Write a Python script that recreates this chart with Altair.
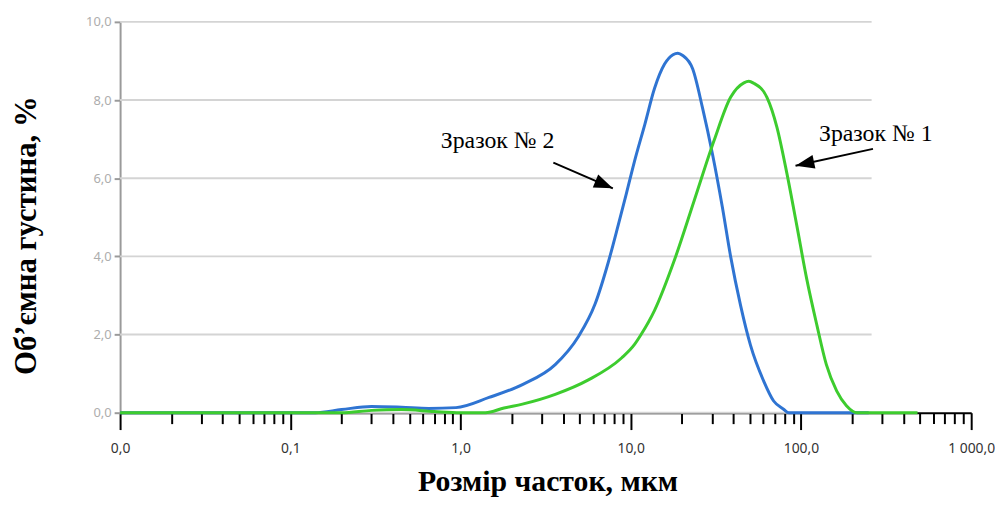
import altair as alt
import pandas as pd

# ---- data ----
blue_x = [0.01, 0.14, 0.2, 0.3, 0.45, 0.65, 0.94, 1.47, 2.31, 3.6, 4.93, 6.17, 7.38, 8.44, 9.44,
          10.5, 12.1, 13.8, 15.8, 17.7, 18.9, 20.2, 23.1, 26.4, 30.2, 34.5, 38.6, 44.2, 50.5,
          60.4, 69.1, 79.0, 85.0, 250.0]
blue_y = [0.0, 0.0, 0.08, 0.16, 0.14, 0.11, 0.13, 0.39, 0.72, 1.23, 1.95, 2.78, 3.85, 4.8, 5.62,
          6.42, 7.38, 8.3, 8.92, 9.16, 9.2, 9.14, 8.8, 7.8, 6.62, 5.27, 4.0, 2.74, 1.73,
          0.81, 0.3, 0.09, 0.0, 0.0]

green_x = [0.01, 0.2, 0.3, 0.45, 0.7, 1.0, 1.4, 1.8, 2.31, 3.6, 5.64, 8.83, 10.5, 11.5, 13.8,
           18.1, 23.6, 30.9, 38.6, 46.2, 49.4, 52.8, 63.1, 72.2, 82.6, 94.6, 108.0, 124.0,
           141.0, 162.0, 185.0, 214.0, 484.0]
green_y = [0.0, 0.0, 0.06, 0.08, 0.03, 0.0, 0.0, 0.12, 0.22, 0.47, 0.84, 1.4, 1.74, 2.0, 2.62,
           3.92, 5.43, 6.97, 8.07, 8.44, 8.48, 8.43, 8.07, 7.31, 6.13, 4.78, 3.43, 2.24,
           1.23, 0.56, 0.18, 0.0, 0.0]

x_decade_labels = ["0,0", "0,1", "1,0", "10,0", "100,0", "1 000,0"]
x_tick_values = [m * 10 ** e for e in range(-2, 3) for m in range(1, 10)] + [1000]
y_tick_values = [0, 2, 4, 6, 8, 10]

grid_y = [0, 2, 4, 6, 8, 10]
grid_x_start = [0.01] * 6
grid_x_end = [260.0] * 6

ann_text = ["Зразок № 2", "Зразок № 1"]
ann_x = [1.65, 275.0]
ann_y = [6.96, 7.13]
arrow_x = [3.51, 264.8]
arrow_y = [6.4, 6.75]
arrow_x2 = [7.85, 92.9]
arrow_y2 = [5.74, 6.32]
arrow_angle = [113, 258]

BLUE = "#2f74d2"
GREEN = "#3dcc2e"

blue_df = pd.DataFrame({"x": blue_x, "y": blue_y})
green_df = pd.DataFrame({"x": green_x, "y": green_y})
grid_df = pd.DataFrame({"y": grid_y, "x": grid_x_start, "x2": grid_x_end})
ann_df = pd.DataFrame({"t": ann_text, "x": ann_x, "y": ann_y})
arr_df = pd.DataFrame({"x": arrow_x, "y": arrow_y, "x2": arrow_x2, "y2": arrow_y2,
                       "ang": arrow_angle})

labels_js = "[" + ",".join("'" + s + "'" for s in x_decade_labels) + "]"
lg = "log(datum.value)/LN10"
x_label_expr = (f"abs({lg} - round({lg})) < 0.001 ? {labels_js}[round({lg}) + 2] : ''")
major_test = f"abs({lg} - round({lg})) < 0.001"

xscale = alt.Scale(type="log", domain=[0.01, 1000], nice=False)
yscale = alt.Scale(domain=[0, 10], nice=False)

x_axis = alt.Axis(
    values=x_tick_values,
    labelExpr=x_label_expr,
    labelOverlap=False,
    labelFlush=False,
    grid=False,
    domainColor="#000000",
    domainWidth=2,
    tickColor="#000000",
    tickWidth=2,
    tickSize={"condition": {"test": major_test, "value": 17}, "value": 11},
    labelColor="#333333",
    labelFont="Noto Sans",
    labelFontSize=14,
    labelPadding=12,
    title="Розмір часток, мкм",
    titleFont="Liberation Serif",
    titleFontWeight="bold",
    titleFontSize=30,
    titleColor="#000000",
    titleX=431,
    titleY=78,
    titleAlign="center",
    titleBaseline="alphabetic",
)

y_axis = alt.Axis(
    values=y_tick_values,
    labelExpr="replace(format(datum.value, '.1f'), '.', ',')",
    grid=False,
    domainColor="#9a9a9a",
    domainWidth=2,
    tickColor="#9a9a9a",
    tickWidth=2,
    tickSize=6,
    labelColor="#adadad",
    labelFont="Noto Sans",
    labelFontSize=13,
    labelPadding=3,
    title="Об’ємна густина, %",
    titleFont="Liberation Serif",
    titleFontWeight="bold",
    titleFontSize=31,
    titleColor="#000000",
    titleAngle=270,
    titleX=-94,
    titleY=215,
    titleAlign="center",
    titleBaseline="middle",
)

grid = alt.Chart(grid_df).mark_rule(color="#d4d4d4", strokeWidth=2).encode(
    x=alt.X("x:Q", scale=xscale, axis=x_axis),
    x2="x2:Q",
    y=alt.Y("y:Q", scale=yscale, axis=y_axis),
)

blue = alt.Chart(blue_df).mark_line(color=BLUE, strokeWidth=3, interpolate="monotone").encode(
    x=alt.X("x:Q", scale=xscale),
    y=alt.Y("y:Q", scale=yscale),
)
green = alt.Chart(green_df).mark_line(color=GREEN, strokeWidth=3, interpolate="monotone").encode(
    x=alt.X("x:Q", scale=xscale),
    y=alt.Y("y:Q", scale=yscale),
)

text = alt.Chart(ann_df).mark_text(font="Liberation Serif", fontSize=24, color="#000000",
                                   align="center", baseline="middle").encode(
    x=alt.X("x:Q", scale=xscale),
    y=alt.Y("y:Q", scale=yscale),
    text="t:N",
)

arrows = alt.Chart(arr_df).mark_rule(color="#000000", strokeWidth=2).encode(
    x=alt.X("x:Q", scale=xscale),
    y=alt.Y("y:Q", scale=yscale),
    x2="x2:Q",
    y2="y2:Q",
)
heads = alt.Chart(arr_df).mark_point(shape="M0,0L0.7,1.9L-0.7,1.9Z", filled=True, size=400,
                                     color="#000000", opacity=1, strokeWidth=0).encode(
    x=alt.X("x2:Q", scale=xscale),
    y=alt.Y("y2:Q", scale=yscale),
    angle=alt.Angle("ang:Q", scale=None),
)

chart = alt.layer(grid, blue, green, arrows, heads, text).properties(
    width=858,
    height=394,
    autosize=alt.AutoSizeParams(type="none"),
    padding={"left": 113, "top": 12, "right": 24, "bottom": 85},
    background="#ffffff",
).configure_view(strokeWidth=0)

chart.save("out.html", embed_options={"renderer": "svg", "actions": False})
